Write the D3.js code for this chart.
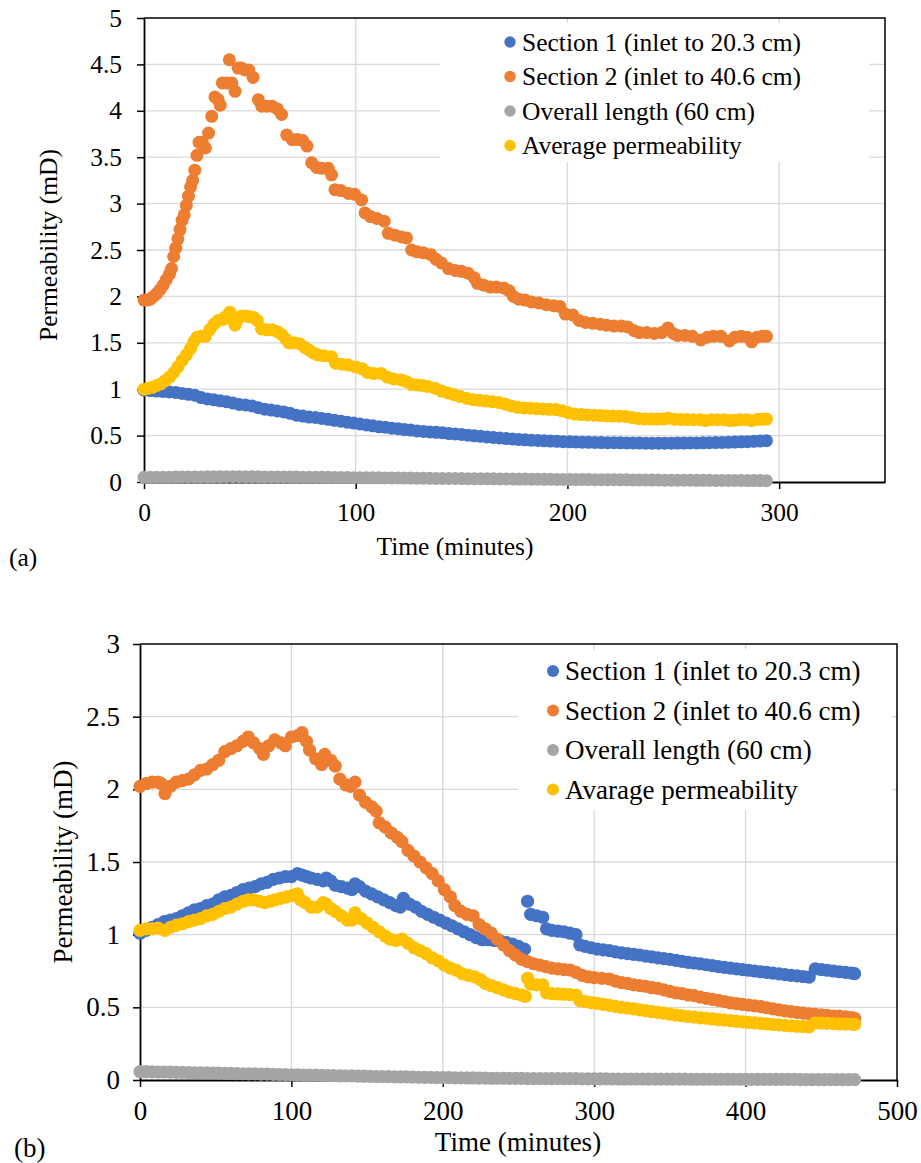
<!DOCTYPE html>
<html>
<head>
<meta charset="utf-8">
<script src="https://cdn.jsdelivr.net/npm/d3@7"></script>
<style>
  html, body { margin: 0; padding: 0; background: #fff; }
  svg { display: block; }
  text { font-family: "Liberation Serif", serif; fill: #000; }
</style>
</head>
<body>
<script>
// ---------------- DATA: chart (a) ----------------
const xTicksA = [0, 100, 200, 300];
const yTicksA = [0, 0.5, 1, 1.5, 2, 2.5, 3, 3.5, 4, 4.5, 5];
const legendA = ["Section 1 (inlet to 20.3 cm)", "Section 2 (inlet to 40.6 cm)", "Overall length (60 cm)", "Average permeability"];

const sec1A = [[0,0.99],[3,0.985],[6,0.98],[9,0.975],[12,0.97],[15,0.965],[18,0.955],[21,0.945],[24,0.935],[27,0.91],[30,0.895],[33,0.885],[36,0.875],[39,0.865],[42,0.85],[45,0.835],[48,0.83],[51,0.82],[54,0.80],[57,0.785],[60,0.775],[63,0.765],[66,0.755],[69,0.74],[72,0.72],[75,0.71],[78,0.70],[81,0.695],[84,0.685],[87,0.675],[90,0.665],[93,0.655],[96,0.645],[99,0.635],[102,0.625],[105,0.615],[108,0.605],[111,0.595],[114,0.59],[117,0.58],[120,0.575],[123,0.565],[126,0.56],[129,0.55],[132,0.545],[135,0.54],[138,0.535],[141,0.53],[144,0.522],[147,0.517],[150,0.512],[153,0.505],[156,0.498],[159,0.492],[162,0.486],[165,0.48],[168,0.474],[171,0.468],[174,0.463],[177,0.458],[180,0.454],[183,0.45],[186,0.447],[189,0.444],[192,0.441],[195,0.438],[198,0.435],[201,0.433],[204,0.431],[207,0.429],[210,0.428],[213,0.426],[216,0.425],[219,0.424],[222,0.423],[225,0.422],[228,0.421],[231,0.42],[234,0.419],[237,0.418],[240,0.418],[243,0.418],[246,0.418],[249,0.418],[252,0.419],[255,0.419],[258,0.42],[261,0.421],[264,0.422],[267,0.423],[270,0.425],[273,0.426],[276,0.428],[279,0.43],[282,0.433],[285,0.435],[288,0.438],[291,0.441],[294,0.445]];

const sec2A = [[0,1.96],[1.5,1.96],[3,1.97],[4.5,2.00],[6,2.03],[7.5,2.07],[9,2.12],[10.5,2.18],[12,2.24],[13,2.30],[14,2.43],[15,2.52],[16,2.62],[17,2.72],[18,2.82],[19,2.88],[20,2.98],[21,3.08],[22,3.18],[23,3.25],[24,3.36],[25,3.52],[26,3.66],[27.5,3.66],[29,3.60],[30.5,3.76],[32,3.94],[33.5,4.15],[35,4.12],[36,4.06],[37,4.30],[39,4.30],[40.3,4.55],[41.5,4.30],[43,4.21],[44.5,4.46],[46,4.46],[47.7,4.44],[49.5,4.44],[51.5,4.36],[54,4.12],[55.6,4.05],[58,4.05],[60.5,4.05],[63,4.02],[65,3.96],[67.4,3.74],[70,3.69],[72.5,3.69],[75,3.68],[77,3.62],[79.2,3.44],[81.5,3.39],[84,3.38],[87,3.38],[88.6,3.31],[90.2,3.15],[93,3.14],[96.5,3.11],[99.5,3.10],[102.8,3.04],[104.4,2.90],[107,2.86],[110,2.84],[113.5,2.81],[115.4,2.68],[118.5,2.66],[121.7,2.64],[124,2.63],[126.4,2.50],[129,2.48],[132,2.47],[135.5,2.45],[138,2.40],[140.5,2.36],[143.8,2.30],[147,2.28],[150,2.27],[153,2.25],[156,2.20],[157.5,2.14],[160.5,2.12],[163.5,2.10],[166.5,2.10],[170,2.09],[172.5,2.06],[174.5,2.00],[177,1.97],[180,1.96],[183,1.94],[186.5,1.93],[190,1.91],[193.5,1.90],[196.5,1.89],[199,1.81],[202.5,1.80],[205.5,1.74],[208.5,1.72],[212,1.71],[215.5,1.70],[218.5,1.69],[222,1.68],[225.5,1.68],[228.5,1.67],[231.5,1.63],[234,1.61],[237.5,1.61],[241,1.60],[244.5,1.61],[247.5,1.66],[250,1.60],[252,1.58],[255.5,1.58],[259,1.57],[263,1.53],[266,1.56],[269,1.57],[272.5,1.57],[276.5,1.52],[279,1.56],[282,1.57],[285,1.56],[287,1.51],[289.5,1.56],[292,1.57],[294,1.57]];

const overallA = [[0,0.05],[3,0.0505],[6,0.051],[9,0.052],[12,0.052],[15,0.053],[18,0.054],[21,0.054],[24,0.055],[27,0.055],[30,0.056],[33,0.056],[36,0.056],[39,0.057],[42,0.057],[45,0.057],[48,0.056],[51,0.056],[54,0.056],[57,0.055],[60,0.055],[63,0.054],[66,0.054],[69,0.053],[72,0.053],[75,0.052],[78,0.051],[81,0.051],[84,0.05],[87,0.05],[90,0.049],[93,0.048],[96,0.048],[99,0.047],[102,0.047],[105,0.046],[108,0.045],[111,0.045],[114,0.044],[117,0.044],[120,0.043],[123,0.042],[126,0.042],[129,0.041],[132,0.041],[135,0.04],[138,0.039],[141,0.039],[144,0.038],[147,0.038],[150,0.037],[153,0.036],[156,0.036],[159,0.035],[162,0.035],[165,0.034],[168,0.033],[171,0.033],[174,0.032],[177,0.032],[180,0.031],[183,0.03],[186,0.03],[189,0.029],[192,0.029],[195,0.028],[198,0.027],[201,0.027],[204,0.026],[207,0.026],[210,0.026],[213,0.025],[216,0.025],[219,0.024],[222,0.024],[225,0.023],[228,0.023],[231,0.022],[234,0.022],[237,0.022],[240,0.021],[243,0.021],[246,0.02],[249,0.02],[252,0.02],[255,0.019],[258,0.019],[261,0.018],[264,0.018],[267,0.018],[270,0.017],[273,0.017],[276,0.016],[279,0.016],[282,0.016],[285,0.015],[288,0.015],[291,0.015],[294,0.014]];

const avgA = [[0,1.00],[2,1.01],[4,1.02],[6,1.04],[8,1.06],[10,1.09],[12,1.13],[14,1.18],[16,1.24],[18,1.31],[20,1.37],[22,1.44],[23.5,1.51],[25,1.56],[27,1.57],[29,1.57],[31,1.64],[33,1.70],[35,1.74],[37,1.75],[38.5,1.78],[40.5,1.83],[42,1.75],[43,1.69],[44.5,1.76],[46,1.79],[48,1.79],[50,1.78],[52,1.77],[53.5,1.74],[55.5,1.65],[58,1.64],[60.5,1.64],[63,1.62],[65,1.59],[67,1.54],[68.5,1.50],[71,1.50],[73.5,1.49],[76,1.45],[78,1.42],[80,1.39],[82,1.37],[85,1.36],[88.5,1.35],[90.5,1.28],[93.5,1.27],[96.5,1.26],[100,1.24],[103,1.22],[105.5,1.18],[108.5,1.17],[112,1.17],[115,1.13],[118,1.11],[121.5,1.10],[124,1.08],[126.5,1.05],[129,1.045],[131.5,1.04],[134,1.03],[137.5,1.01],[140.5,0.98],[143.5,0.96],[146.5,0.94],[149.5,0.92],[152.5,0.90],[155.5,0.887],[158.5,0.88],[161.5,0.872],[164.5,0.865],[167.5,0.857],[170.5,0.84],[173.5,0.82],[176.5,0.805],[179.5,0.798],[182.5,0.795],[185.5,0.79],[188.5,0.787],[191.5,0.783],[194.5,0.78],[197.5,0.767],[200.5,0.745],[203.5,0.732],[206.5,0.727],[209.5,0.723],[212.5,0.72],[215.5,0.716],[218.5,0.712],[221.5,0.71],[224.5,0.709],[227.5,0.706],[230.5,0.695],[233.5,0.683],[236.5,0.679],[239.5,0.678],[242.5,0.678],[245.5,0.68],[247.5,0.687],[250.5,0.676],[253.5,0.674],[256.5,0.673],[259.5,0.672],[262.5,0.671],[265,0.662],[268,0.672],[271,0.672],[274,0.671],[276.5,0.662],[279,0.665],[281.5,0.672],[284.5,0.672],[287,0.66],[290,0.675],[292,0.677],[294,0.678]];

// ---------------- DATA: chart (b) ----------------
const xTicksB = [0, 100, 200, 300, 400, 500];
const yTicksB = [0, 0.5, 1, 1.5, 2, 2.5, 3];
const legendB = ["Section 1 (inlet to 20.3 cm)", "Section 2 (inlet to 40.6 cm)", "Overall length (60 cm)", "Avarage permeability"];

const sec1B = [[0,1.01],[4,1.03],[8,1.05],[12,1.07],[16,1.09],[20,1.10],[24,1.11],[28,1.13],[32,1.15],[36,1.17],[40,1.18],[44,1.20],[48,1.21],[52,1.24],[56,1.26],[60,1.27],[64,1.29],[68,1.31],[72,1.32],[76,1.33],[80,1.35],[84,1.36],[88,1.38],[92,1.39],[96,1.40],[100,1.40],[104,1.42],[107,1.41],[110,1.40],[113,1.39],[117,1.38],[121,1.37],[123,1.39],[126,1.37],[129,1.34],[133,1.33],[137,1.32],[140,1.31],[142,1.35],[145,1.33],[149,1.30],[153,1.28],[157,1.26],[161,1.24],[165,1.22],[169,1.20],[172,1.19],[174,1.25],[178,1.21],[182,1.19],[186,1.16],[190,1.14],[194,1.12],[198,1.10],[202,1.08],[206,1.06],[210,1.04],[214,1.02],[218,1.00],[222,0.98],[226,0.965],[230,0.965],[234,0.96],[238,0.955],[242,0.945],[246,0.935],[250,0.92],[254,0.90],[256,1.23],[258,1.14],[262,1.13],[266,1.12],[268.5,1.04],[272,1.03],[276,1.025],[280,1.02],[284,1.01],[288,1.00],[290.5,0.93],[294,0.92],[298,0.91],[302,0.90],[306,0.895],[310,0.89],[314,0.882],[318,0.875],[322,0.87],[326,0.865],[330,0.86],[334,0.853],[338,0.847],[342,0.84],[346,0.835],[350,0.83],[354,0.823],[358,0.816],[362,0.81],[366,0.805],[370,0.80],[374,0.793],[378,0.787],[382,0.78],[386,0.775],[390,0.77],[394,0.765],[398,0.76],[402,0.755],[406,0.75],[410,0.745],[414,0.74],[418,0.735],[422,0.73],[426,0.725],[430,0.72],[434,0.716],[438,0.712],[442,0.708],[446,0.765],[450,0.76],[454,0.755],[458,0.75],[462,0.745],[466,0.74],[470,0.735],[472,0.732]];

const sec2B = [[0,2.02],[4,2.04],[8,2.05],[12,2.05],[14,2.04],[16.5,1.97],[20,2.02],[24,2.05],[28,2.06],[32,2.07],[36,2.10],[40,2.13],[44,2.14],[48,2.17],[52,2.20],[56,2.26],[60,2.28],[64,2.30],[68,2.33],[71.5,2.36],[75,2.32],[79,2.28],[81.5,2.24],[85,2.30],[89,2.34],[93,2.32],[96,2.30],[100,2.36],[104,2.37],[107,2.39],[110,2.33],[112,2.27],[116,2.21],[120,2.17],[122,2.24],[126,2.20],[129,2.16],[132,2.07],[136,2.03],[139,2.02],[142,2.05],[145,1.96],[149,1.91],[153,1.88],[156,1.85],[158,1.77],[162,1.74],[166,1.70],[170,1.67],[173,1.64],[177,1.58],[181,1.54],[185,1.50],[189,1.46],[193,1.42],[197,1.37],[201,1.31],[205,1.26],[208,1.20],[212,1.16],[216,1.14],[220,1.13],[224,1.07],[228,1.04],[232,1.01],[236,0.97],[240,0.93],[244,0.89],[248,0.86],[252,0.83],[256,0.815],[260,0.80],[264,0.79],[268,0.78],[272,0.77],[276,0.765],[280,0.76],[284,0.757],[288,0.74],[292,0.72],[296,0.71],[300,0.705],[305,0.70],[310,0.695],[314,0.68],[318,0.67],[322,0.665],[326,0.655],[330,0.65],[334,0.645],[338,0.635],[342,0.63],[346,0.62],[350,0.61],[354,0.60],[358,0.595],[362,0.585],[366,0.58],[370,0.57],[374,0.562],[378,0.555],[382,0.548],[386,0.54],[390,0.53],[394,0.525],[398,0.52],[402,0.515],[406,0.51],[410,0.505],[414,0.497],[418,0.49],[422,0.482],[426,0.475],[430,0.47],[434,0.465],[438,0.46],[442,0.455],[446,0.452],[450,0.448],[454,0.445],[458,0.44],[462,0.44],[466,0.435],[470,0.43],[472,0.425]];

const overallB = [[0,0.058],[4,0.057],[8,0.056],[12,0.055],[16,0.055],[20,0.054],[24,0.053],[28,0.052],[32,0.051],[36,0.05],[40,0.05],[44,0.049],[48,0.048],[52,0.047],[56,0.046],[60,0.045],[64,0.044],[68,0.043],[72,0.042],[76,0.042],[80,0.041],[84,0.04],[88,0.039],[92,0.038],[96,0.037],[100,0.036],[104,0.035],[108,0.034],[112,0.033],[116,0.033],[120,0.032],[124,0.031],[128,0.03],[132,0.029],[136,0.028],[140,0.028],[144,0.027],[148,0.026],[152,0.025],[156,0.024],[160,0.024],[164,0.023],[168,0.022],[172,0.021],[176,0.021],[180,0.02],[184,0.019],[188,0.018],[192,0.018],[196,0.017],[200,0.016],[204,0.016],[208,0.015],[212,0.015],[216,0.014],[220,0.014],[224,0.013],[228,0.013],[232,0.012],[236,0.012],[240,0.012],[244,0.011],[248,0.011],[252,0.011],[256,0.01],[260,0.01],[264,0.01],[268,0.01],[272,0.009],[276,0.009],[280,0.009],[284,0.009],[288,0.009],[292,0.008],[296,0.008],[300,0.008],[304,0.008],[308,0.008],[312,0.007],[316,0.007],[320,0.007],[324,0.007],[328,0.007],[332,0.007],[336,0.006],[340,0.006],[344,0.006],[348,0.006],[352,0.006],[356,0.006],[360,0.006],[364,0.005],[368,0.005],[372,0.005],[376,0.005],[380,0.005],[384,0.005],[388,0.005],[392,0.005],[396,0.005],[400,0.004],[404,0.004],[408,0.004],[412,0.004],[416,0.004],[420,0.004],[424,0.004],[428,0.004],[432,0.004],[436,0.003],[440,0.003],[444,0.003],[448,0.003],[452,0.003],[456,0.003],[460,0.003],[464,0.003],[468,0.003],[472,0.003]];

const avgB = [[0,1.03],[4,1.04],[8,1.04],[12,1.045],[16.5,1.03],[20,1.05],[24,1.065],[28,1.075],[32,1.09],[36,1.10],[40,1.11],[44,1.13],[48,1.14],[52,1.16],[56,1.18],[60,1.19],[64,1.21],[68,1.23],[71.5,1.24],[75,1.24],[79,1.23],[82.5,1.22],[86,1.23],[89,1.24],[93,1.25],[97,1.26],[101,1.27],[104,1.28],[106,1.24],[109,1.22],[113,1.19],[117,1.19],[121,1.22],[123,1.21],[126,1.18],[129,1.16],[133,1.13],[137,1.10],[140,1.10],[142,1.15],[146,1.11],[150,1.08],[154,1.05],[158,1.02],[162,0.99],[165,0.97],[169,0.96],[173,0.97],[177,0.94],[181,0.91],[185,0.89],[189,0.87],[193,0.84],[197,0.82],[201,0.79],[205,0.77],[209,0.755],[213,0.73],[217,0.72],[221,0.71],[225,0.69],[228,0.665],[232,0.65],[236,0.635],[240,0.62],[244,0.605],[248,0.595],[252,0.585],[254.5,0.575],[256,0.70],[258,0.66],[262,0.655],[266,0.655],[268.5,0.60],[272,0.595],[276,0.592],[280,0.59],[284,0.588],[288,0.585],[290.5,0.546],[294,0.54],[298,0.533],[302,0.527],[306,0.52],[310,0.513],[314,0.507],[318,0.5],[322,0.495],[326,0.49],[330,0.483],[334,0.477],[338,0.47],[342,0.465],[346,0.46],[350,0.453],[354,0.447],[358,0.442],[362,0.437],[366,0.433],[370,0.428],[374,0.425],[378,0.42],[382,0.416],[386,0.412],[390,0.408],[394,0.404],[398,0.40],[402,0.397],[406,0.393],[410,0.39],[414,0.386],[418,0.382],[422,0.379],[426,0.376],[430,0.373],[434,0.37],[438,0.368],[442,0.366],[446,0.394],[450,0.392],[454,0.39],[458,0.388],[462,0.386],[466,0.385],[470,0.384],[472,0.383]];

const colors = ["#4472C4", "#ED7D31", "#A5A5A5", "#FFC000"];
const FONT = '"Liberation Serif", serif';

// ---------------- DRAW ----------------
const svg = d3.select("body").append("svg").attr("width", 921).attr("height", 1163);
svg.append("rect").attr("width", 921).attr("height", 1163).attr("fill", "#fff");

function drawChart(cfg) {
  const g = svg.append("g");
  const x = d3.scaleLinear().domain(cfg.xDomain).range([cfg.left, cfg.right]);
  const y = d3.scaleLinear().domain(cfg.yDomain).range([cfg.bottom, cfg.top]);
  const fs = cfg.fontSize;

  // gridlines
  g.selectAll(".hg").data(cfg.yTicks.filter(v => v > cfg.yDomain[0] && v < cfg.yDomain[1]))
    .enter().append("line")
    .attr("x1", cfg.left).attr("x2", cfg.right)
    .attr("y1", d => y(d)).attr("y2", d => y(d))
    .attr("stroke", "#D9D9D9").attr("stroke-width", 1.3);
  g.selectAll(".vg").data(cfg.xTicks.filter(v => v > cfg.xDomain[0] && v < cfg.xDomain[1]))
    .enter().append("line")
    .attr("x1", d => x(d)).attr("x2", d => x(d))
    .attr("y1", cfg.top).attr("y2", cfg.bottom)
    .attr("stroke", "#D9D9D9").attr("stroke-width", 1.3);

  // plot border (top, right)
  g.append("path")
    .attr("d", `M${cfg.left},${cfg.top}H${cfg.right}V${cfg.bottom}`)
    .attr("fill", "none").attr("stroke", "#000").attr("stroke-width", 1.5);

  // axes
  const ax = d3.axisBottom(x).tickValues(cfg.xTicks).tickSize(7).tickSizeOuter(0).tickFormat(d => String(d)).tickPadding(cfg.xPad);
  const ay = d3.axisLeft(y).tickValues(cfg.yTicks).tickSize(7).tickSizeOuter(0).tickFormat(d => String(d)).tickPadding(cfg.yPad);
  const gx = g.append("g").attr("transform", `translate(0,${cfg.bottom})`).call(ax);
  const gy = g.append("g").attr("transform", `translate(${cfg.left},0)`).call(ay);
  [gx, gy].forEach(a => {
    a.attr("font-family", FONT).attr("font-size", fs);
    a.select(".domain").attr("stroke", "#000").attr("stroke-width", 1.8);
    a.selectAll(".tick line").attr("stroke", "#000").attr("stroke-width", 1.5);
    a.selectAll(".tick text").attr("font-family", FONT).attr("font-size", fs).attr("fill", "#000");
  });

  // data
  cfg.series.forEach((s, i) => {
    g.append("g").selectAll("circle").data(s).enter().append("circle")
      .attr("cx", d => x(d[0])).attr("cy", d => y(d[1]))
      .attr("r", cfg.r).attr("fill", colors[i]);
  });

  // legend
  const L = cfg.legend;
  g.append("rect").attr("x", L.x0).attr("y", L.y0).attr("width", L.x1 - L.x0).attr("height", L.y1 - L.y0).attr("fill", "#fff");
  cfg.legendLabels.forEach((lab, i) => {
    const cy = L.firstY + i * L.step;
    g.append("circle").attr("cx", L.mx).attr("cy", cy).attr("r", L.mr).attr("fill", colors[i]);
    g.append("text").attr("x", L.tx).attr("y", cy).attr("dy", "0.34em")
      .attr("font-family", FONT).attr("font-size", fs).text(lab);
  });

  // axis titles
  g.append("text").attr("x", cfg.xTitle[0]).attr("y", cfg.xTitle[1]).attr("text-anchor", "middle")
    .attr("font-family", FONT).attr("font-size", fs).text("Time (minutes)");
  g.append("text").attr("transform", `translate(${cfg.yTitle[0]},${cfg.yTitle[1]}) rotate(-90)`)
    .attr("text-anchor", "middle").attr("dy", "0.34em").attr("font-family", FONT).attr("font-size", fs).text("Permeability (mD)");
  g.append("text").attr("x", cfg.tag[0]).attr("y", cfg.tag[1]).attr("font-family", FONT).attr("font-size", fs).text(cfg.tagText);
}

drawChart({
  xDomain: [0, 350], yDomain: [0, 5], left: 144, right: 885, top: 18, bottom: 482,
  xTicks: xTicksA, yTicks: yTicksA, fontSize: 25.5, xPad: 14, yPad: 15, r: 6.5,
  series: [sec1A, sec2A, overallA, avgA],
  legendLabels: legendA,
  legend: { x0: 440, x1: 869, y0: 23, y1: 162, mx: 510, mr: 5.7, tx: 522, firstY: 42, step: 34.5 },
  xTitle: [455, 555], yTitle: [48, 245], tag: [9, 566], tagText: "(a)"
});

drawChart({
  xDomain: [0, 500], yDomain: [0, 3], left: 140, right: 897, top: 644, bottom: 1080,
  xTicks: xTicksB, yTicks: yTicksB, fontSize: 27, xPad: 14, yPad: 13, r: 6.6,
  series: [sec1B, sec2B, overallB, avgB],
  legendLabels: legendB,
  legend: { x0: 518, x1: 892, y0: 650, y1: 810, mx: 553, mr: 6, tx: 565, firstY: 671, step: 39.5 },
  xTitle: [518, 1151], yTitle: [63, 862], tag: [14, 1157], tagText: "(b)"
});
</script>
</body>
</html>
